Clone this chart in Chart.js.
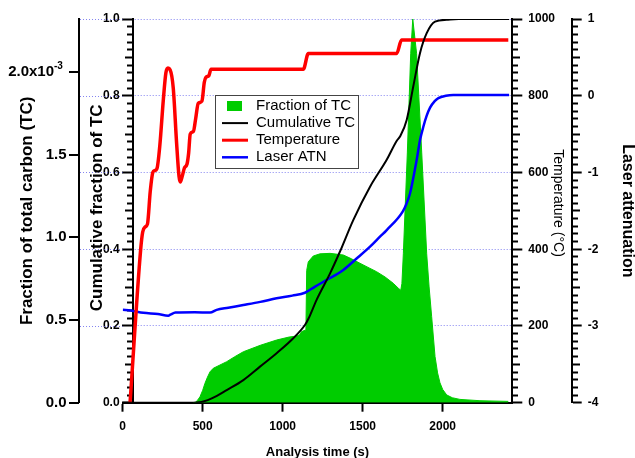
<!DOCTYPE html>
<html>
<head>
<meta charset="utf-8">
<script src="https://cdn.jsdelivr.net/npm/chart.js@4.4.0/dist/chart.umd.min.js"></script>
<style>
  html, body { margin: 0; padding: 0; background: #fff; }
  canvas { display: block; }
</style>
</head>
<body>
<canvas id="chart" width="635" height="458"></canvas>
<script>
// fraction of total carbon per time step, in units of 1e-3
const tcTime = [440, 452, 468, 483, 500, 514, 530, 546, 566, 608, 650, 700, 754, 860, 962, 1040, 1087, 1105, 1118, 1145, 1150, 1160, 1191, 1233, 1296, 1379, 1430, 1483, 1540, 1587, 1640, 1691, 1723, 1738, 1745, 1754, 1779, 1800, 1813, 1837, 1869, 1900, 1915, 1931, 1952, 1968, 1983, 2000, 2025, 2060, 2108, 2233, 2410]
const tcFrac = [0, 0, 0.015, 0.036, 0.075, 0.117, 0.155, 0.187, 0.208, 0.228, 0.248, 0.278, 0.308, 0.347, 0.379, 0.397, 0.403, 0.41, 0.43, 0.44, 0.8, 0.852, 0.887, 0.9, 0.903, 0.893, 0.87, 0.843, 0.815, 0.792, 0.76, 0.722, 0.692, 0.68, 0.72, 0.9, 1.51, 2.11, 2.32, 2.11, 1.51, 0.9, 0.7, 0.52, 0.28, 0.18, 0.12, 0.08, 0.047, 0.03, 0.02, 0.012, 0.008]

// cumulative fraction of TC
const cumTime = [0, 440, 480, 504, 560, 650, 754, 858, 962, 1066, 1139, 1160, 1212, 1296, 1358, 1441, 1546, 1650, 1712, 1735, 1775, 1816, 1858, 1900, 1952, 2025, 2100, 2415]
const cumFrac = [0, 0, 0.001, 0.003, 0.012, 0.033, 0.059, 0.094, 0.129, 0.168, 0.2025, 0.218, 0.268, 0.337, 0.394, 0.476, 0.563, 0.633, 0.682, 0.695, 0.737, 0.824, 0.911, 0.963, 0.993, 0.998, 1.0, 1.0]

// oven temperature, deg C
const tempTime = [46, 112, 125, 140, 155, 172, 188, 200, 214, 232, 254, 270, 283, 296, 316, 337, 352, 360, 372, 386, 402, 412, 422, 442, 456, 472, 495, 510, 520, 538, 552, 1129, 1160, 1712, 1743, 2410]
const tempC = [0, 398, 445, 458, 466, 550, 600, 605, 610, 670, 790, 860, 872, 868, 820, 676, 590, 575, 590, 612, 622, 650, 700, 707, 740, 780, 786, 835, 848, 852, 869, 869, 910, 910, 945, 945]

// laser attenuation
const atnTime = [0, 50, 129, 220, 285, 300, 330, 450, 546, 587, 660, 754, 860, 962, 1060, 1139, 1200, 1275, 1379, 1460, 1546, 1608, 1650, 1750, 1775, 1796, 1837, 1858, 1879, 1900, 1921, 1950, 1973, 2020, 2066, 2415]
const atnValue = [-2.79, -2.8, -2.827, -2.845, -2.866, -2.85, -2.825, -2.822, -2.825, -2.79, -2.762, -2.727, -2.686, -2.64, -2.605, -2.567, -2.49, -2.4, -2.27, -2.125, -1.967, -1.837, -1.75, -1.51, -1.4, -1.27, -0.84, -0.58, -0.404, -0.26, -0.155, -0.07, -0.03, 0, 0.01, 0.01]

// labelled time ticks
const timeTicks = [0, 500, 1000, 1500, 2000]

const FONT = "Arial, 'Liberation Sans', sans-serif"
// the two left axes sit at these analysis times
const FRAC_AXIS_AT = -273
const CUM_AXIS_AT = 64
const GRID_COLOR = "rgba(90,90,235,0.75)"

function pts(xs, ys) {
  return xs.map((x, i) => ({ x: x, y: ys[i] }))
}

function near(v, step) {
  const r = v / step
  return Math.abs(r - Math.round(r)) < 1e-6
}

// axes placed at a time value draw labels flush on the axis line, pad them off
function pad(s, n) {
  return s + " ".repeat(n)
}

// long ticks on labelled values, medium every 5th minor, short otherwise
function tickDash(major, mid) {
  return ctx => {
    const v = ctx.tick.value
    if (near(v, major)) return []
    if (near(v, mid)) return [7, 40]
    return [5, 40]
  }
}

const tickFont = { family: FONT, size: 12, weight: "bold" }

const leftAxes = {
  id: "leftAxes",
  beforeDatasetsDraw(chart) {
    // dotted grid continues left to the outer axis
    const c = chart.ctx
    const yc = chart.scales.yc
    const ax = chart.scales.x.getPixelForValue(FRAC_AXIS_AT)
    c.save()
    c.strokeStyle = GRID_COLOR
    c.lineWidth = 1
    c.setLineDash([1, 2])
    yc.ticks.forEach(t => {
      if (!near(t.value, 0.2) || t.value === 0) return
      const y = Math.round(yc.getPixelForValue(t.value)) + 0.5
      c.beginPath()
      c.moveTo(ax + 1, y)
      c.lineTo(chart.chartArea.left, y)
      c.stroke()
    })
    c.restore()
  },
  afterDraw(chart) {
    const c = chart.ctx
    const a = chart.chartArea
    const mid = (a.top + a.bottom) / 2
    c.save()
    // tick marks and exponent of the outer left axis
    const yf = chart.scales.yf
    const ax = Math.round(chart.scales.x.getPixelForValue(FRAC_AXIS_AT))
    c.strokeStyle = "#000"
    c.lineWidth = 2
    yf.ticks.forEach(t => {
      const y = Math.round(yf.getPixelForValue(t.value))
      c.beginPath()
      c.moveTo(ax, y)
      c.lineTo(ax - 10, y)
      c.stroke()
    })
    const yTop = yf.getPixelForValue(2)
    c.fillStyle = "#000"
    c.font = "bold 10px " + FONT
    c.textAlign = "left"
    c.textBaseline = "middle"
    c.fillText("-3", ax - 25, yTop - 6)

    c.textAlign = "center"
    c.font = "bold 17px " + FONT
    const titles = [
      ["Fraction of total carbon (TC)", 27, mid],
      ["Cumulative fraction of TC", 97, mid - 3],
    ]
    titles.forEach(([text, x, y]) => {
      c.save()
      c.translate(x, y)
      c.rotate(-Math.PI / 2)
      c.fillText(text, 0, 0)
      c.restore()
    })
    c.restore()
  },
}

const legendBox = {
  id: "legendBox",
  afterDraw(chart) {
    const c = chart.ctx
    const left = 215, top = 95, w = 143, h = 73
    c.save()
    c.fillStyle = "#fff"
    c.fillRect(left, top, w, h)
    c.strokeStyle = "#444"
    c.lineWidth = 1
    c.strokeRect(left + 0.5, top + 0.5, w, h)
    c.font = "15px " + FONT
    c.textBaseline = "middle"
    chart.data.datasets.forEach((ds, i) => {
      const y = top + 11 + i * 17.1
      if (ds.fill) {
        c.fillStyle = ds.backgroundColor
        c.fillRect(227, y - 5, 15, 10)
      } else {
        c.strokeStyle = ds.borderColor
        c.lineWidth = Math.min(ds.borderWidth, 3)
        c.beginPath()
        c.moveTo(222, y)
        c.lineTo(248, y)
        c.stroke()
      }
      c.fillStyle = "#000"
      c.fillText(ds.label, 256, y)
    })
    c.restore()
  },
}

new Chart(document.getElementById("chart"), {
  type: "line",
  data: {
    datasets: [
      {
        label: "Fraction of TC",
        data: pts(tcTime, tcFrac),
        yAxisID: "yf",
        borderColor: "#00cc00",
        backgroundColor: "#00cc00",
        borderWidth: 1,
        fill: "origin",
        pointRadius: 0,
        tension: 0,
        order: 1,
      },
      {
        label: "Cumulative TC",
        data: pts(cumTime, cumFrac),
        yAxisID: "yc",
        borderColor: "#000",
        borderWidth: 2,
        fill: false,
        pointRadius: 0,
        cubicInterpolationMode: "monotone",
        order: 0,
      },
      {
        label: "Temperature",
        data: pts(tempTime, tempC),
        yAxisID: "yt",
        borderColor: "#ff0000",
        borderWidth: 3.5,
        fill: false,
        pointRadius: 0,
        cubicInterpolationMode: "monotone",
        order: 0,
      },
      {
        label: "Laser ATN",
        data: pts(atnTime, atnValue),
        yAxisID: "yl",
        borderColor: "#0000ff",
        borderWidth: 2.5,
        fill: false,
        pointRadius: 0,
        cubicInterpolationMode: "monotone",
        order: 0,
      },
    ],
  },
  options: {
    responsive: false,
    animation: false,
    layout: { padding: { left: 122.7, right: 0, top: 19, bottom: 0 } },
    plugins: { legend: { display: false }, tooltip: { enabled: false } },
    scales: {
      x: {
        type: "linear",
        min: 0,
        max: 2435,
        afterBuildTicks: s => { s.ticks = timeTicks.map(v => ({ value: v })) },
        ticks: {
          maxRotation: 0,
          padding: 8,
          color: "#000",
          font: tickFont,
          callback: v => String(v),
        },
        grid: { drawOnChartArea: false, color: "#000", tickLength: 9, tickWidth: 2 },
        border: { color: "#000", width: 2 },
        title: {
          display: true,
          text: "Analysis time (s)",
          color: "#000",
          font: { family: FONT, size: 13, weight: "bold" },
          padding: { top: 0, bottom: -2 },
        },
        afterFit: s => { s.height = 55.3 },
      },
      yf: {
        axis: "y",
        type: "linear",
        position: { x: FRAC_AXIS_AT },
        min: 0,
        max: 2.32,
        ticks: {
          stepSize: 0.5,
          includeBounds: false,
          color: "#000",
          font: { family: FONT, size: 15, weight: "bold" },
          callback: v => (near(v, 2) && v > 0 ? pad("2.0x10", 6) : pad(v.toFixed(1), 3)),
        },
        grid: { display: false },
        border: { color: "#000", width: 2 },
      },
      yc: {
        axis: "y",
        type: "linear",
        position: { x: CUM_AXIS_AT },
        min: 0,
        max: 1,
        ticks: {
          stepSize: 0.02,
          autoSkip: false,
          color: "#000",
          font: tickFont,
          callback: v => (near(v, 0.2) ? pad(v.toFixed(1), 4) : ""),
        },
        grid: {
          color: ctx => (near(ctx.tick.value, 0.2) && ctx.tick.value > 0 ? GRID_COLOR : "rgba(0,0,0,0)"),
          lineWidth: 1,
          tickColor: "#000",
          tickLength: 10,
          tickWidth: 2,
          tickBorderDash: tickDash(0.2, 0.1),
        },
        border: { color: "#000", width: 2, dash: [1, 2] },
      },
      yt: {
        type: "linear",
        position: "right",
        min: 0,
        max: 1000,
        ticks: {
          stepSize: 20,
          autoSkip: false,
          padding: 6,
          color: "#000",
          font: tickFont,
          callback: v => (near(v, 200) ? String(v) : ""),
        },
        grid: {
          drawOnChartArea: false,
          color: "#000",
          tickLength: 10,
          tickWidth: 2,
          tickBorderDash: tickDash(200, 100),
        },
        border: { color: "#000", width: 2 },
        title: {
          display: true,
          text: pad("Temperature (\u00B0C)", 4),
          color: "#000",
          font: { family: FONT, size: 14 },
          padding: { top: 5, bottom: 0 },
        },
        afterFit: s => { s.width = 59.4 },
      },
      yl: {
        type: "linear",
        position: "right",
        min: -4,
        max: 1,
        ticks: {
          stepSize: 0.1,
          autoSkip: false,
          padding: 6,
          color: "#000",
          font: tickFont,
          callback: v => (near(v, 1) ? String(Math.round(v)) : ""),
        },
        grid: {
          drawOnChartArea: false,
          color: "#000",
          tickLength: 10,
          tickWidth: 2,
          tickBorderDash: tickDash(1, 0.5),
        },
        border: { color: "#000", width: 2 },
        title: {
          display: true,
          text: "Laser attenuation",
          color: "#000",
          font: { family: FONT, size: 16, weight: "bold", lineHeight: 1 },
          padding: { top: 0, bottom: 0 },
        },
        afterFit: s => { s.width = 63.3 },
      },
    },
  },
  plugins: [leftAxes, legendBox],
})
</script>
</body>
</html>
